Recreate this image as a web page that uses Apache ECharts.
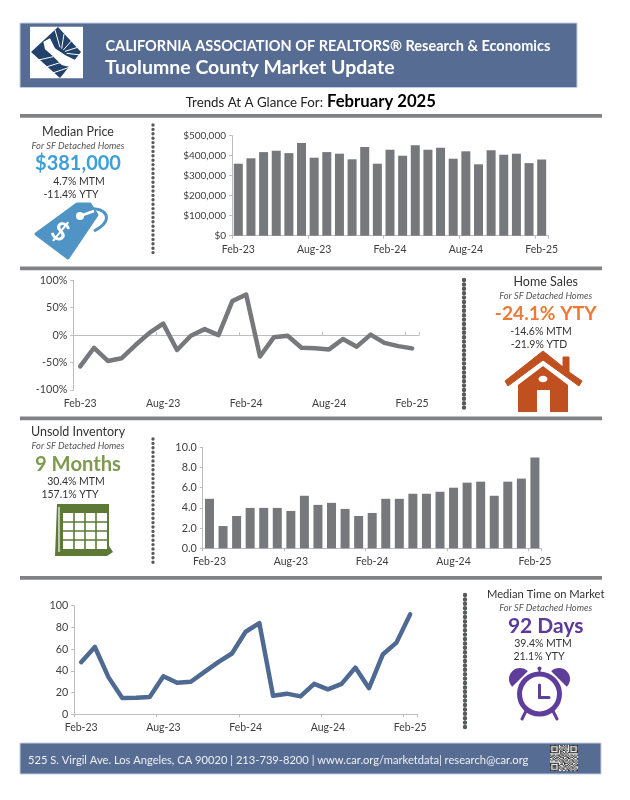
<!DOCTYPE html>
<html><head><meta charset="utf-8">
<style>html,body{margin:0;padding:0;background:#fff}#c{width:630px;height:800px}</style>
<script src="https://cdn.jsdelivr.net/npm/echarts@6/dist/echarts.min.js"></script>
</head><body><div id="c"></div>
<script>
const months = ['Feb-23','Mar-23','Apr-23','May-23','Jun-23','Jul-23','Aug-23','Sep-23','Oct-23','Nov-23','Dec-23','Jan-24','Feb-24','Mar-24','Apr-24','May-24','Jun-24','Jul-24','Aug-24','Sep-24','Oct-24','Nov-24','Dec-24','Jan-25','Feb-25'];
const medianPrice = [360000,387000,418000,425000,413000,463000,390000,418000,410000,382000,443000,360000,430000,400000,452000,430000,440000,385000,422000,357000,427000,405000,410000,363000,381000];
const homeSalesYty = [-57,-23,-47,-42,-18,4,21,-27,-1,11,0,62,74,-39,-4,-1,-23,-24,-26,-7,-21,1,-14,-20,-24.1];
const inventory = [4.9,2.2,3.2,4,4,4,3.7,5.2,4.3,4.5,3.9,3.2,3.5,4.9,4.9,5.4,5.4,5.6,6,6.5,6.6,5.2,6.6,6.9,9];
const daysOnMarket = [48,62,34,15,15.3,16,35,29,30,39,48,56,76,84,17,19,16.5,28,23,28,43,24,55,66,92];

const FONT = 'Lato';
const GREY = '#77787b', AXIS = '#bdbdbd', INK = '#404040', RULE = '#808285', BLUE = '#566c92';
const chart = echarts.init(document.getElementById('c'), null, {renderer:'canvas'});

function xAxis(i, margin, opts){
  return Object.assign({gridIndex:i,type:'category',data:months,
    axisLine:{onZero:false,lineStyle:{color:AXIS,width:1}},
    axisTick:{show:true,interval:5,length:3,lineStyle:{color:AXIS}},
    axisLabel:{interval:5,margin:margin,color:INK,fontFamily:FONT,fontSize:10.5}},opts||{});
}
function yAxis(i,min,max,interval,fmt,size){
  return {gridIndex:i,type:'value',min,max,interval,splitLine:{show:false},
    axisLine:{show:true,lineStyle:{color:AXIS,width:1}},
    axisTick:{show:true,length:3,lineStyle:{color:AXIS}},
    axisLabel:{margin:6,color:INK,fontFamily:FONT,fontSize:size||10.8,formatter:fmt}};
}
const grid = [
  {left:232,top:135.7,width:316,height:100},
  {left:73.3,top:280.3,width:345.7,height:109.7},
  {left:202.7,top:447.3,width:339,height:101},
  {left:74.3,top:605.7,width:342.7,height:108.6}
];

function T(text,x,y,size,color,extra){
  const e = extra||{};
  return {type:'text',z:10,x,y,rotation:e.rotation||0,style:{text,x:0,y:0,fill:color,align:e.align||'center',verticalAlign:'middle',
    font:`${e.italic?'italic ':''}${e.bold?'bold ':''}${size}px ${e.font||FONT}`}};
}
function R(x,y,w,h,fill,r,stroke){return {type:'rect',shape:{x,y,width:w,height:h,r:r||0},style:{fill,stroke:stroke||null,lineWidth:stroke?1:0}};}
function P(points,fill,stroke,lw){return {type:'polygon',shape:{points},style:{fill,stroke:stroke||null,lineWidth:lw||0,lineJoin:'round'}};}
function L(x1,y1,x2,y2,stroke,lw,cap){return {type:'line',shape:{x1,y1,x2,y2},style:{stroke,lineWidth:lw,lineCap:cap||'butt'}};}
function dots(x,y1,y2,w){return {type:'line',shape:{x1:x,y1,x2:x,y2},style:{stroke:'#58595b',lineWidth:w,lineCap:'round',lineDash:[0,4.4]}};}
function panel(cx,y,title,big,color,bigSize,l1,l1x,l2,l2x){
  return [
    T(title,cx,y,title.length>16?11.2:12.5,'#333'),
    T('For SF Detached Homes',cx,y+14,9.3,'#555',{italic:true}),
    T(big,cx,y+32,bigSize,color,{bold:true}),
    T(l1,l1x,y+50,10.5,'#333'),
    T(l2,l2x,y+62.5,10.5,'#333')
  ];
}
const g = [];
// header
g.push(R(20,23,557,64.5,BLUE,0,'#c5cede'));
g.push(R(30,26.7,53,51.5,'#fff'));
const zx=v=>10+v/3, LOGO='#22416b';
g.push(P([[58,27],[81,52],[60,78],[31,52]],LOGO));
g.push(P([[100,95],[120,85],[135,115],[165,135],[200,152],[182,172],[155,165],[125,135],[105,118]].map(p=>[zx(p[0]),zx(p[1])]),'#fff'));
for(const s of [[85,150,130,140],[105,172,160,155],[125,190,178,172],[150,112,135,60],[155,116,162,72],[160,120,185,92],[165,124,203,112],[170,130,212,135]]) g.push(L(zx(s[0]),zx(s[1]),zx(s[2]),zx(s[3]),'#fff',1));
g.push(T('CALIFORNIA ASSOCIATION OF REALTORS® Research & Economics',105.5,46,14.5,'#fff',{bold:true,align:'left'}));
g.push(T('Tuolumne County Market Update',105,68,19.5,'#fff',{bold:true,align:'left'}));
g.push(T('Trends At A Glance For:',323,103,13.3,'#222',{align:'right'}));
g.push(T('February 2025',327,102,16.7,'#000',{bold:true,align:'left'}));
// rules
for(const y of [114,266.5,416.5,576]) g.push(R(20,y,582,3.8,RULE));
// separators
g.push(dots(153,125,256,3.4),dots(464,280,410,4.4),dots(153,439,565,3.4),dots(465,595,730,4.4));
// panels
g.push(...panel(78,132,'Median Price','$381,000','#3f9fd8',20,'4.7% MTM',79,'-11.4% YTY',71));
g.push(...panel(545.7,282,'Home Sales','-24.1% YTY','#ec7a36',19.2,'-14.6% MTM',541,'-21.9% YTD',539));
g.push(...panel(78,432,'Unsold Inventory','9 Months','#7f9a50',20.2,'30.4% MTM',76,'157.1% YTY',70));
g.push(...panel(545.7,594,'Median Time on Market','92 Days','#5b3a9a',21,'39.4% MTM',543,'21.1% YTY',539));
// price tag
const TAG='#4f94c4';
g.push(P([[36,234],[77,204],[90,204],[97,215],[68,258]],TAG,TAG,3));
g.push({type:'circle',shape:{cx:80,cy:216,r:4},style:{fill:'#fff'}});
g.push({type:'bezierCurve',shape:{x1:82,y1:212,cpx1:100,cpy1:202,cpx2:120,cpy2:218,x2:94,y2:231},style:{stroke:TAG,lineWidth:3,fill:null}});
g.push(L(80,216,94,211,'#fff',2.5));
g.push(T('$',60,232,26,'#fff',{bold:true,rotation:-0.6}));
// house
const H='#c0501f';
g.push(P([[505,381],[543,351],[563,367],[563,357],[569,357],[569,372],[582,381],[579,386],[543,360],[508,386]],H,H,1));
g.push(P([[518,385],[543,366],[568,385],[568,412],[550,412],[550,390],[537,390],[537,412],[518,412]],H));
g.push({type:'ellipse',shape:{cx:543,cy:379,rx:4.5,ry:3.2},style:{fill:'#fff'}});
// calendar
const C='#5c7a35';
g.push(P([[57,504],[109,504],[109,546],[113,552],[107,556],[55,556]],C));
g.push(L(59,507,59,552,'#fff',1.2));
g.push(R(63,513,44,36,'#fff'));
for(const x of [74,85,96]) g.push(L(x,513,x,550,C,1.6));
for(const y of [522,531,540]) g.push(L(63,y,107,y,C,1.6));
// clock
const K='#5f3d9b';
g.push({type:'circle',shape:{cx:539.5,cy:694,r:20},style:{fill:'#fff',stroke:K,lineWidth:5}});
g.push({type:'sector',shape:{cx:520,cy:679,r:11,r0:0,startAngle:Math.PI*0.75,endAngle:Math.PI*1.75},style:{fill:K}});
g.push({type:'sector',shape:{cx:559,cy:679,r:11,r0:0,startAngle:Math.PI*1.25,endAngle:Math.PI*2.25},style:{fill:K}});
g.push({type:'circle',shape:{cx:539.5,cy:668.5,r:2},style:{fill:K}});
g.push(L(539.5,670,539.5,675,K,2));
g.push(L(539.5,685,539.5,697.5,K,3,'round'),L(539.5,697.5,549,697.5,K,3,'round'));
g.push(L(526,711,522,719,K,3,'round'),L(553,711,557,719,K,3,'round'));
// footer
g.push(R(20,743,581,31,BLUE,0,'#c5cede'));
g.push(T('525 S. Virgil Ave. Los Angeles, CA 90020 | 213-739-8200 | www.car.org/marketdata| research@car.org',28,760,11.15,'#eef0f4',{align:'left'}));
const qr=['1111111011010101111111','1000001001101101000001','1011101010010101011101','1011101101101001011101','1011101010110101011101','1000001011001001000001','1111111010101011111111','0000000011010100000000','1011011101101010110101','0110100110011101001010','1101011011100110110110','0010110100101011001001','1011001011010100110101','0100110101101101011010','0000000010110010101101','1111111001011101010010','1000001011010010110101','1011101100101101001011','1011101010011010110100','1011101101100101011010','1000001010110110100101','1111111001001011011011'];
g.push(R(550,745,28,26,'#e8e8e8'));
qr.forEach((row,r)=>[...row].forEach((v,c)=>{ if(v==='1') g.push(R(550+c*28/22,745+r*26/22,28/22,26/22,'#333'));}));

const barS=(d,i)=>({type:'bar',xAxisIndex:i,yAxisIndex:i,data:d,barWidth:9,itemStyle:{color:GREY},silent:true});
const lineS=(d,i,color)=>({type:'line',xAxisIndex:i,yAxisIndex:i,data:d,symbol:'none',silent:true,lineStyle:{color,width:4.5,cap:'round',join:'round'}});
chart.setOption({
  animation:false,
  backgroundColor:'#fff',
  grid,
  xAxis:[
    xAxis(0,8),
    xAxis(1,8,{axisLine:{onZero:true,lineStyle:{color:AXIS,width:1}},axisTick:{show:true,interval:5,length:3,inside:true,lineStyle:{color:AXIS}}}),
    xAxis(2,8),
    xAxis(3,8)
  ],
  yAxis:[
    yAxis(0,0,500000,100000,v=>'$'+v.toLocaleString('en-US'),10),
    yAxis(1,-100,100,50,'{value}%'),
    yAxis(2,0,10,2,v=>v.toFixed(1)),
    yAxis(3,0,100,20,'{value}')
  ],
  series:[barS(medianPrice,0),lineS(homeSalesYty,1,GREY),barS(inventory,2),lineS(daysOnMarket,3,'#4e6a92')],
  graphic:{elements:g}
});
</script></body></html>
